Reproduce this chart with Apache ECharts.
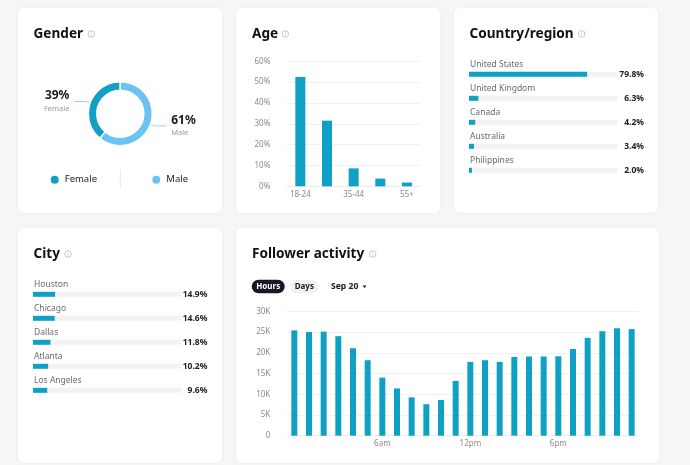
<!DOCTYPE html>
<html><head><meta charset="utf-8">
<script src="https://cdn.jsdelivr.net/npm/echarts@6/dist/echarts.min.js"></script>
<style>html,body{margin:0;padding:0;background:#f6f6f6}#c{width:690px;height:465px}</style>
</head><body><div id="c"></div>
<script>
// ---- data ----
const genderNames = ['Female', 'Male'];
const genderValues = [39, 61];
const ageCategories = ['18-24', '25-34', '35-44', '45-54', '55+'];
const ageValues = [52.5, 31.5, 8.6, 3.7, 1.8];
const countryNames = ['United States', 'United Kingdom', 'Canada', 'Australia', 'Philippines'];
const countryValues = [79.8, 6.3, 4.2, 3.4, 2.0];
const cityNames = ['Houston', 'Chicago', 'Dallas', 'Atlanta', 'Los Angeles'];
const cityValues = [14.9, 14.6, 11.8, 10.2, 9.6];
const hourLabels = ['12am','1am','2am','3am','4am','5am','6am','7am','8am','9am','10am','11am',
                    '12pm','1pm','2pm','3pm','4pm','5pm','6pm','7pm','8pm','9pm','10pm','11pm'];
const followerValues = [25400, 25000, 25100, 24000, 21100, 18200, 14000, 11400, 9250, 7600, 8600, 13200,
                        17800, 18200, 17800, 19000, 19100, 19100, 19150, 20900, 23600, 25200, 25900, 25700];

// ---- style ----
const FONT = '"Noto Sans", sans-serif';
const BAR = '#0fa1c5';
const GREY = '#8a8a8a';
const genderColors = ['#139fc5', '#6ac3f0'];

const chart = echarts.init(document.getElementById('c'), null, {renderer: 'canvas'});

function panel(x, y, w, h) {
  return {type: 'rect', z: -10, shape: {x, y, width: w, height: h, r: 6},
    style: {fill: '#fff', shadowBlur: 4, shadowColor: 'rgba(0,0,0,0.04)'}};
}
function title(text, x, y) {
  return {type: 'text', z: 5, x, y, style: {text, fill: '#111', font: 'bold 13.6px ' + FONT, verticalAlign: 'middle'}};
}
function info(x, y) {
  return [
    {type: 'circle', z: 5, shape: {cx: x, cy: y, r: 3.3}, style: {fill: 'none', stroke: '#b8b8b8', lineWidth: 0.8}},
    {type: 'text', z: 5, x: x, y: y + 0.3, style: {text: 'i', fill: '#b0b0b0', font: '5px ' + FONT, align: 'center', verticalAlign: 'middle'}}
  ];
}

const graphic = [
  panel(18, 8, 204, 205), panel(236, 8, 204, 205), panel(454, 8, 204, 205),
  panel(18, 228, 204, 235), panel(236, 228, 423, 235),
  title('Gender', 33.5, 34), ...info(91.3, 34),
  title('Age', 252, 34), ...info(285.3, 34),
  title('Country/region', 469.5, 34), ...info(581.7, 34),
  title('City', 33.5, 254), ...info(68, 254),
  title('Follower activity', 252, 254), ...info(372.7, 254),
  {type: 'line', z: 5, shape: {x1: 120.3, y1: 169.5, x2: 120.3, y2: 189}, style: {stroke: '#e6e6e6', lineWidth: 1}},
  {type: 'rect', z: 5, shape: {x: 251.7, y: 279.7, width: 33, height: 13.6, r: 6.8}, style: {fill: '#161823'}},
  {type: 'text', z: 6, x: 268.2, y: 286.6, style: {text: 'Hours', fill: '#fff', font: 'bold 8px ' + FONT, align: 'center', verticalAlign: 'middle'}},
  {type: 'rect', z: 5, shape: {x: 290, y: 279.7, width: 28.7, height: 13.6, r: 6.8}, style: {fill: '#f1f1f2'}},
  {type: 'text', z: 6, x: 304.3, y: 286.6, style: {text: 'Days', fill: '#161823', font: 'bold 8px ' + FONT, align: 'center', verticalAlign: 'middle'}},
  {type: 'text', z: 6, x: 331, y: 286.6, style: {text: 'Sep 20', fill: '#161823', font: 'bold 8.6px ' + FONT, verticalAlign: 'middle'}},
  {type: 'polygon', z: 6, shape: {points: [[362.5, 285.5], [366.5, 285.5], [364.5, 288]]}, style: {fill: '#161823'}}
];

const axisLabelStyle = {color: GREY, fontSize: 8, fontFamily: FONT};

const option = {
  animation: false,
  backgroundColor: '#f6f6f6',
  textStyle: {fontFamily: FONT},
  graphic: graphic,
  legend: [
    {data: [genderNames[0]], left: 48.7, top: 173.7, padding: 0, icon: 'circle', itemWidth: 10, itemHeight: 10, itemGap: 0,
     selectedMode: false, textStyle: {fontSize: 9.5, color: '#222', fontFamily: FONT}},
    {data: [genderNames[1]], left: 150.3, top: 173.7, padding: 0, icon: 'circle', itemWidth: 10, itemHeight: 10, itemGap: 0,
     selectedMode: false, textStyle: {fontSize: 9.5, color: '#222', fontFamily: FONT}}
  ],
  grid: [
    {left: 287, top: 61.3, width: 133.3, height: 125},
    {left: 469, top: 62.3, width: 148, height: 120},
    {left: 33, top: 282.3, width: 148.3, height: 120},
    {left: 287, top: 311.3, width: 352, height: 124.4}
  ],
  xAxis: [
    {type: 'category', gridIndex: 0, data: ageCategories, axisTick: {show: false},
     axisLine: {lineStyle: {color: '#ebebeb'}}, axisLabel: Object.assign({interval: 1, margin: 4}, axisLabelStyle)},
    {type: 'value', gridIndex: 1, min: 0, max: 100, show: false},
    {type: 'value', gridIndex: 2, min: 0, max: 100, show: false},
    {type: 'category', gridIndex: 3, data: hourLabels, axisTick: {show: false},
     axisLine: {lineStyle: {color: '#ebebeb'}},
     axisLabel: Object.assign({interval: (i) => i > 0 && i % 6 === 0, margin: 4}, axisLabelStyle)}
  ],
  yAxis: [
    {type: 'value', gridIndex: 0, min: 0, max: 60, interval: 10,
     axisLabel: Object.assign({formatter: '{value}%', margin: 16.7}, axisLabelStyle),
     splitLine: {lineStyle: {color: '#f2f2f2'}}, axisLine: {show: false}, axisTick: {show: false}},
    {type: 'category', gridIndex: 1, data: countryNames, inverse: true, show: false},
    {type: 'category', gridIndex: 1, data: countryValues.map(v => v.toFixed(1) + '%'), inverse: true, position: 'right',
     axisLine: {show: false}, axisTick: {show: false},
     axisLabel: {align: 'right', margin: 27, fontSize: 8.5, fontWeight: 'bold', color: '#222', fontFamily: FONT, padding: [0, 0, 2, 0]}},
    {type: 'category', gridIndex: 2, data: cityNames, inverse: true, show: false},
    {type: 'category', gridIndex: 2, data: cityValues.map(v => v.toFixed(1) + '%'), inverse: true, position: 'right',
     axisLine: {show: false}, axisTick: {show: false},
     axisLabel: {align: 'right', margin: 26, fontSize: 8.5, fontWeight: 'bold', color: '#222', fontFamily: FONT, padding: [0, 0, 2, 0]}},
    {type: 'value', gridIndex: 3, min: 0, max: 30000, interval: 5000,
     axisLabel: Object.assign({formatter: (v) => v === 0 ? '0' : (v / 1000) + 'K', margin: 16.7}, axisLabelStyle),
     splitLine: {lineStyle: {color: '#f2f2f2'}}, axisLine: {show: false}, axisTick: {show: false}}
  ],
  series: [
    {type: 'pie', center: [120.3, 113.7], radius: [23.5, 32], startAngle: 90, clockwise: false,
     data: genderNames.map((n, i) => ({name: n, value: genderValues[i], itemStyle: {color: genderColors[i]}})),
     itemStyle: {borderColor: '#fff', borderWidth: 1.5},
     label: {formatter: '{v|{c}%}\n{n|{b}}', rich: {
       v: {fontSize: 12, fontWeight: 'bold', color: '#1a1a1a', fontFamily: FONT, lineHeight: 14},
       n: {fontSize: 7.5, color: '#9a9a9a', fontFamily: FONT, lineHeight: 11}}},
     labelLine: {length: 4, length2: 12, smooth: 0.2, lineStyle: {color: '#8fd3ef', width: 1}},
     emphasis: {disabled: true}},
    {type: 'bar', xAxisIndex: 0, yAxisIndex: 0, data: ageValues, barWidth: 10, itemStyle: {color: BAR}},
    {type: 'bar', xAxisIndex: 1, yAxisIndex: 1, data: countryValues, barWidth: 5, itemStyle: {color: BAR},
     showBackground: true, backgroundStyle: {color: '#f2f2f2'},
     label: {show: true, position: [1, -12], formatter: '{b}', fontSize: 8.5, color: '#6b6b6b', fontFamily: FONT}},
    {type: 'bar', xAxisIndex: 2, yAxisIndex: 3, data: cityValues, barWidth: 5, itemStyle: {color: BAR},
     showBackground: true, backgroundStyle: {color: '#f2f2f2'},
     label: {show: true, position: [1, -12], formatter: '{b}', fontSize: 8.5, color: '#6b6b6b', fontFamily: FONT}},
    {type: 'bar', xAxisIndex: 3, yAxisIndex: 5, data: followerValues, barWidth: 6, itemStyle: {color: BAR}}
  ]
};
chart.setOption(option);
</script></body></html>
